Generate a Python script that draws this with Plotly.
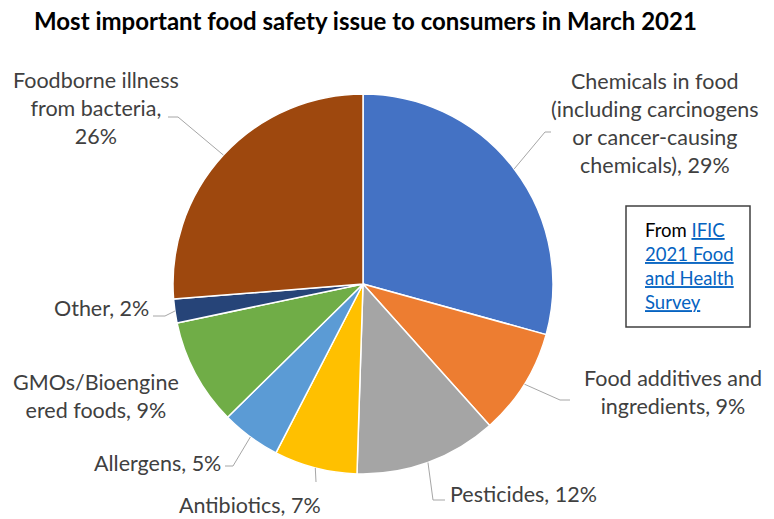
import math
import plotly.graph_objects as go

# ---- data ----
categories = [
    "Chemicals in food (including carcinogens or cancer-causing chemicals)",
    "Food additives and ingredients",
    "Pesticides",
    "Antibiotics",
    "Allergens",
    "GMOs/Bioengineered foods",
    "Other",
    "Foodborne illness from bacteria",
]
values = [29, 9, 12, 7, 5, 9, 2, 26]
label_texts = [
    "Chemicals in food<br>(including carcinogens<br>or cancer-causing<br>chemicals), 29%",
    "Food additives and<br>ingredients, 9%",
    "Pesticides, 12%",
    "Antibiotics, 7%",
    "Allergens, 5%",
    "GMOs/Bioengine<br>ered foods, 9%",
    "Other, 2%",
    "Foodborne illness<br>from bacteria,<br>26%",
]
colors = ["#4472C4", "#ED7D31", "#A5A5A5", "#FFC000", "#5B9BD5", "#70AD47", "#264478", "#9E480E"]
title_text = "Most important food safety issue to consumers in March 2021"

# ---- layout constants (pixels) ----
W, H = 774, 519
CX, CY, R = 363, 284, 190
FONT = "Lato"

def px(x):
    return x / W

def py(y):
    return 1 - y / H

# label anchors: (x, y, xanchor, align)
label_pos = [
    (655, 123, "center", "center"),
    (673, 392, "center", "center"),
    (448, 494, "left", "left"),
    (250, 505, "center", "center"),
    (223, 463, "right", "right"),
    (96, 396, "center", "center"),
    (151, 308, "right", "right"),
    (96, 108, "center", "center"),
]
# leader line waypoints after the pie edge (None = no leader)
leaders = [
    [(545, 132), (551, 132)],
    [(560, 400), (570, 400)],
    [(433, 500), (445, 500)],
    [(316, 482)],
    [(233, 466), (225, 466)],
    None,
    [(165, 316), (153, 316)],
    [(178, 117), (168, 117)],
]

fig = go.Figure()
fig.add_trace(go.Pie(
    labels=categories,
    values=values,
    sort=False,
    direction="clockwise",
    rotation=0,
    marker=dict(colors=colors, line=dict(color="white", width=1.5)),
    textinfo="none",
    hoverinfo="label+percent",
    showlegend=False,
    domain=dict(x=[px(CX - R), px(CX + R)], y=[py(CY + R), py(CY - R)]),
))

annotations = []
shapes = []
total = sum(values)
cum = 0
for i, v in enumerate(values):
    mid = (cum + v / 2) / total * 2 * math.pi
    cum += v
    sx = CX + R * math.sin(mid)
    sy = CY - R * math.cos(mid)
    lx, ly, xa, al = label_pos[i]
    annotations.append(dict(
        x=px(lx), y=py(ly), xref="paper", yref="paper",
        text=label_texts[i], showarrow=False, xanchor=xa, yanchor="middle",
        align=al, font=dict(family=FONT, size=21.5, color="#404040"),
    ))
    if leaders[i]:
        pts = [(sx, sy)] + leaders[i]
        path = "M " + " L ".join(f"{px(a)},{py(b)}" for a, b in pts)
        shapes.append(dict(type="path", xref="paper", yref="paper", path=path,
                           line=dict(color="#A6A6A6", width=1)))

# source box
shapes.append(dict(type="rect", xref="paper", yref="paper",
                   x0=px(626), x1=px(750), y0=py(327), y1=py(206),
                   line=dict(color="#404040", width=1.5), fillcolor="white"))
link = "color:#0563C1"
url = "https://foodinsight.org/2021-food-health-survey/"
box_text = (
    f"From <a href='{url}' style='{link}'><u>IFIC</u></a><br>"
    f"<a href='{url}' style='{link}'><u>2021 Food</u></a><br>"
    f"<a href='{url}' style='{link}'><u>and Health</u></a><br>"
    f"<a href='{url}' style='{link}'><u>Survey</u></a>"
)
annotations.append(dict(
    x=px(643), y=py(266), xref="paper", yref="paper", text=box_text,
    showarrow=False, xanchor="left", yanchor="middle", align="left",
    font=dict(family=FONT, size=18.5, color="#000000"),
))

annotations.append(dict(
    x=px(365), y=py(20), xref="paper", yref="paper",
    text="<b>" + title_text + "</b>", showarrow=False,
    xanchor="center", yanchor="middle",
    font=dict(family=FONT, size=24, color="#000000"),
))

fig.update_layout(
    width=W, height=H,
    margin=dict(l=0, r=0, t=0, b=0),
    paper_bgcolor="white", plot_bgcolor="white",
    annotations=annotations, shapes=shapes,
)

fig.write_html("out.html", config={"displayModeBar": False},
               post_script="document.body.style.margin='0';")
